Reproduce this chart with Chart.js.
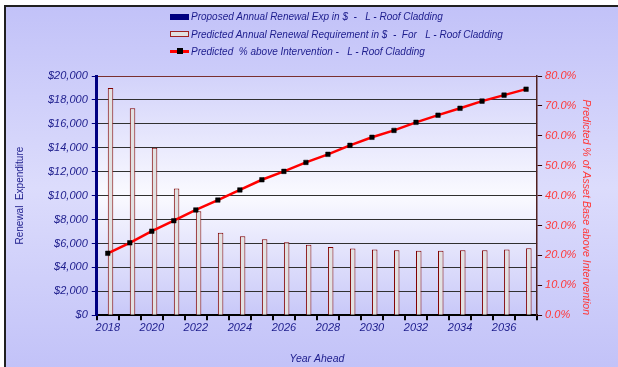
<!DOCTYPE html>
<html>
<head>
<meta charset="utf-8">
<script src="https://cdn.jsdelivr.net/npm/chart.js@4.4.1/dist/chart.umd.min.js"></script>
<style>
  html, body { margin: 0; padding: 0; background: #fff; }
  #frame {
    position: absolute; left: 4px; top: 5px; width: 614px; height: 362px;
    border-top: 2px solid #202020; border-left: 2px solid #202020;
    background: linear-gradient(#c2c2f8, #dcdcfc 50%, #c2c2f8);
  }
  #chart { position: absolute; left: 0; top: 0; }
  #legend {
    position: absolute; left: 170px; top: 8px;
    font: italic 10px "Liberation Sans", Arial, sans-serif; color: #1c1c8c;
  }
  .item { height: 17.5px; display: flex; align-items: center; }
  .mk { width: 19px; height: 6px; margin-right: 2px; position: relative; box-sizing: border-box; }
  .mk1 { background: #000080; }
  .mk2 { background: #e0e0e0; border: 1.5px solid #a02020; }
  .mk3 { height: 3px; background: #ff0000; }
  .mk3::after { content: ""; position: absolute; left: 6.5px; top: -2px; width: 6px; height: 6px; background: #000; }
</style>
</head>
<body>
<div id="frame"></div>
<canvas id="chart" width="618" height="367"></canvas>
<div id="legend">
  <div class="item"><span class="mk mk1"></span>Proposed Annual Renewal Exp in $ &nbsp;- &nbsp; L - Roof Cladding</div>
  <div class="item"><span class="mk mk2"></span>Predicted Annual Renewal Requirement in $ &nbsp;- &nbsp;For &nbsp; L - Roof Cladding</div>
  <div class="item"><span class="mk mk3"></span>Predicted &nbsp;% above Intervention - &nbsp; L - Roof Cladding</div>
</div>
<script>
const years = ['2018', '2019', '2020', '2021', '2022', '2023', '2024', '2025', '2026', '2027',
               '2028', '2029', '2030', '2031', '2032', '2033', '2034', '2035', '2036', '2037'];
const proposedExp = [0, 0, 0, 0, 0, 0, 0, 0, 0, 0, 0, 0, 0, 0, 0, 0, 0, 0, 0, 0];
const predictedReq = [19000, 17300, 14000, 10600, 8700, 6900, 6600, 6350, 6100, 5900,
                      5700, 5570, 5490, 5440, 5380, 5380, 5440, 5440, 5490, 5600];
const pctAbove = [20.7, 24.2, 28.1, 31.6, 35.2, 38.5, 41.9, 45.3, 48.1, 51.1,
                  53.8, 56.8, 59.5, 61.8, 64.5, 66.9, 69.2, 71.6, 73.6, 75.6];

const navy = '#1c1c8c';
const redText = '#ff3838';
const fontName = '"Liberation Sans", Arial, sans-serif';

// gradient fill behind the plot area
const plotBg = {
    id: 'plotBg',
    beforeDraw(chart) {
        const { ctx, chartArea: a } = chart;
        const g = ctx.createLinearGradient(0, a.top, 0, a.bottom);
        g.addColorStop(0, '#d2d2fa');
        g.addColorStop(0.5, '#fafaff');
        g.addColorStop(1, '#c8c8f8');
        ctx.save();
        ctx.fillStyle = g;
        ctx.fillRect(a.left, a.top, a.right - a.left, a.bottom - a.top);
        ctx.restore();
    }
};

new Chart(document.getElementById('chart'), {
    type: 'bar',
    data: {
        labels: years,
        datasets: [
            {
                label: 'Predicted  % above Intervention -   L - Roof Cladding',
                type: 'line',
                data: pctAbove,
                yAxisID: 'y1',
                borderColor: '#ff0000',
                borderWidth: 2.5,
                pointStyle: 'rect',
                pointRadius: 3.2,
                pointBorderWidth: 0.5,
                pointBackgroundColor: '#000',
                pointBorderColor: '#000',
                tension: 0,
                order: 0
            },
            {
                label: 'Proposed Annual Renewal Exp in $  -   L - Roof Cladding',
                data: proposedExp,
                backgroundColor: '#000080',
                borderWidth: 0,
                order: 1
            },
            {
                label: 'Predicted Annual Renewal Requirement in $  -  For   L - Roof Cladding',
                data: predictedReq,
                backgroundColor: '#e2e2e2',
                borderColor: '#800000',
                borderWidth: 1,
                order: 1
            }
        ]
    },
    options: {
        responsive: false,
        animation: false,
        datasets: { bar: { categoryPercentage: 0.5, barPercentage: 1.0 } },
        layout: { padding: { left: 14, right: 16, top: 76, bottom: 2 } },
        plugins: {
            legend: { display: false },
            tooltip: { enabled: false }
        },
        scales: {
            x: {
                grid: { drawOnChartArea: false, color: '#000', tickLength: 5, lineWidth: 2 },
                border: { color: '#000', width: 2 },
                ticks: {
                    color: navy,
                    font: { family: fontName, size: 11, style: 'italic' },
                    maxRotation: 0,
                    autoSkip: false,
                    padding: 1,
                    callback: function(v, i) { return i % 2 === 0 ? years[i] : ''; }
                },
                title: {
                    display: true, text: 'Year Ahead', color: navy,
                    font: { family: fontName, size: 10.5, style: 'italic' },
                    padding: { top: 17, bottom: 0 }
                }
            },
            y: {
                position: 'left',
                min: 0, max: 20000,
                grid: {
                    color: function(c) { return c.tick.value === 20000 ? '#7a3030' : '#303030'; },
                    tickColor: '#000080',
                    tickLength: 5,
                    lineWidth: 1
                },
                border: { color: '#000080', width: 3 },
                ticks: {
                    stepSize: 2000,
                    color: navy,
                    font: { family: fontName, size: 11, style: 'italic' },
                    padding: 4,
                    callback: function(v) { return '$' + v.toLocaleString('en-US'); }
                },
                title: {
                    display: true, text: 'Renewal  Expenditure', color: navy,
                    font: { family: fontName, size: 10 },
                    padding: { top: 0, bottom: 18 }
                }
            },
            y1: {
                position: 'right',
                min: 0, max: 80,
                grid: { drawOnChartArea: false, color: '#300000', tickLength: 5 },
                border: { color: '#502020', width: 1.5 },
                ticks: {
                    stepSize: 10,
                    color: redText,
                    font: { family: fontName, size: 11, style: 'italic' },
                    padding: 3,
                    callback: function(v) { return v.toFixed(1) + '%'; }
                },
                title: {
                    display: true,
                    text: '        Predicted % of Asset Base above Intervention',
                    color: redText,
                    font: { family: fontName, size: 10.6, style: 'italic' },
                    padding: { top: 10, bottom: 0 }
                }
            }
        }
    },
    plugins: [plotBg]
});
</script>
</body>
</html>
